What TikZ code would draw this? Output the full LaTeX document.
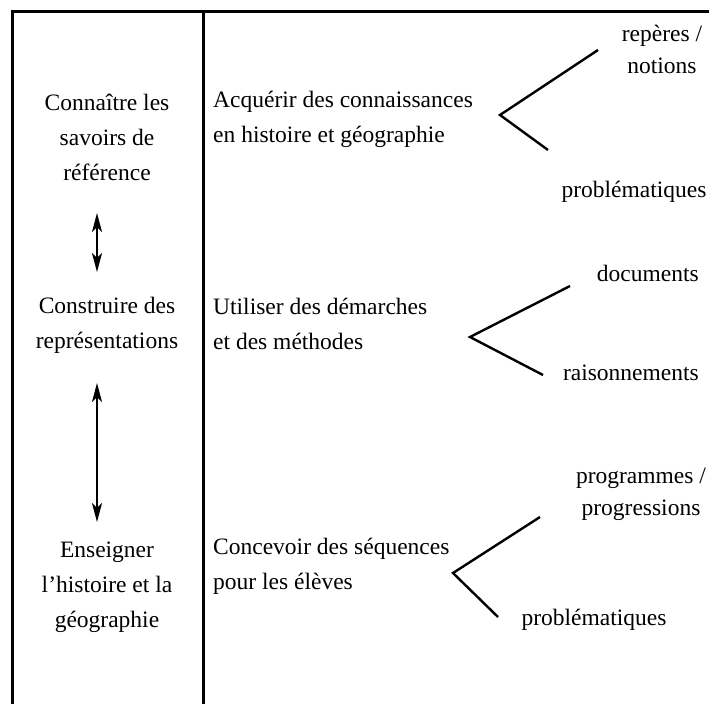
\documentclass[tikz,border=0pt]{standalone}
\usepackage{fontspec}
\setmainfont{Liberation Serif}
\usetikzlibrary{arrows.meta}

\begin{document}
\begin{tikzpicture}[x=1pt, y=-1pt, >={Stealth[length=19pt, width=10pt, inset=5pt]},
      font=\fontsize{23.5}{35}\selectfont,
      frame/.style={line width=3pt},
      goal/.style={align=center, inner sep=0pt},
      task/.style={align=left, anchor=west, inner sep=0pt},
      leaf/.style={align=center, inner sep=0pt, font=\fontsize{23.5}{32}\selectfont},
      branch/.style={line width=2.4pt},
      link/.style={<->, line width=2pt}]
    \useasboundingbox (0,0) rectangle (709,704);
    % --- frame of the table ---
    \draw[frame] (709,11) -- (12,11) -- (12,704);
    \draw[frame] (203,11) -- (203,704);
    % --- first column: the three aims ---
    \node[goal] (know)  at (107,137) {Connaître les\\savoirs de\\référence};
    \node[goal] (build) at (107,325) {Construire des\\représentations};
    \node[goal] (teach) at (107,587) {Enseigner\\l’histoire et la\\géographie};
    \coordinate (knowlo)  at (97,213);
    \coordinate (buildhi) at (97,272);
    \coordinate (buildlo) at (97,383);
    \coordinate (teachhi) at (97,522);
    \draw[link] (knowlo) -- (buildhi);
    \draw[link] (buildlo) -- (teachhi);
    % --- second column: what is done ---
    \node[task] (acquire) at (213,119) {Acquérir des connaissances\\en histoire et géographie};
    \node[task] (use)     at (213,324) {Utiliser des démarches\\et des méthodes};
    \node[task] (design)  at (213,566) {Concevoir des séquences\\pour les élèves};
    % --- branches ---
    \node[leaf] (marks)  at (662,49)  {repères /\\notions};
    \node[leaf] (probA)  at (634,192) {problématiques};
    \node[leaf, anchor=east] (docs)   at (699,273) {documents};
    \node[leaf, anchor=east] (reason) at (699,373) {raisonnements};
    \node[leaf] (progs)  at (641,494) {programmes /\\progressions};
    \node[leaf] (probB)  at (594,620) {problématiques};
    \coordinate (fork1) at (500,115);
    \coordinate (up1)   at (598,50);
    \coordinate (down1) at (548,150);
    \coordinate (fork2) at (470,337);
    \coordinate (up2)   at (570,286);
    \coordinate (down2) at (543,375);
    \coordinate (fork3) at (453,573);
    \coordinate (up3)   at (540,517);
    \coordinate (down3) at (498,617);
    \draw[branch] (up1) -- (fork1) -- (down1);
    \draw[branch] (up2) -- (fork2) -- (down2);
    \draw[branch] (up3) -- (fork3) -- (down3);
  \end{tikzpicture}
\end{document}
